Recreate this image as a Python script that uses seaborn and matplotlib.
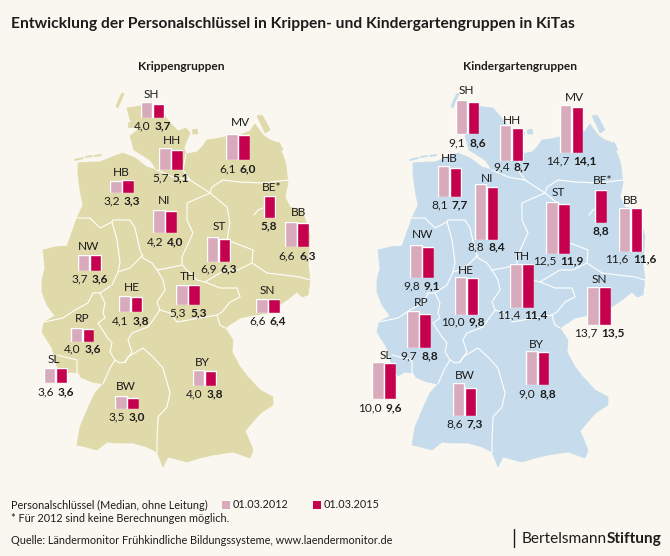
"""Personalschluessel in Krippen- und Kindergartengruppen, zwei Karten mit Balken je Bundesland."""
import numpy as np
import pandas as pd
import matplotlib.pyplot as plt
from matplotlib.patches import Polygon, Rectangle
import seaborn as sns

W, H = 670, 556
BG = "#f9f7ef"
SAND = "#e0d9a9"
BLUE = "#c6dcec"
LIGHT = "#d8aabb"
DARK = "#c4004f"
INK = "#1c1c1c"
FS_VAL = 8.6

states = ["SH", "HH", "MV", "HB", "NI", "BE*", "BB", "ST", "NW", "TH", "HE", "SN", "RP", "SL", "BY", "BW"]
krippe_2012 = [4.0, 5.7, 6.1, 3.2, 4.2, np.nan, 6.6, 6.9, 3.7, 5.3, 4.1, 6.6, 4.0, 3.6, 4.0, 3.5]
krippe_2015 = [3.7, 5.1, 6.0, 3.3, 4.0, 5.8, 6.3, 6.3, 3.6, 5.3, 3.8, 6.4, 3.6, 3.6, 3.8, 3.0]
kita_2012 = [9.1, 9.4, 14.7, 8.1, 8.8, np.nan, 11.6, 12.5, 9.8, 11.4, 10.0, 13.7, 9.7, 10.0, 9.0, 8.6]
kita_2015 = [8.6, 8.7, 14.1, 7.7, 8.4, 8.8, 11.6, 11.9, 9.1, 11.4, 9.8, 13.5, 8.8, 9.6, 8.8, 7.3]
dates = ["01.03.2012", "01.03.2015"]

# pixel layout per state: bar centre x, baseline y, label x, label y, value y, px per unit
layout_krippe = {
    "SH": (152.7, 117.7, 151, 95, 126, 3.83), "HH": (170.8, 170, 171.7, 140, 178, 3.86),
    "MV": (238, 160.3, 240, 123, 169, 4.3), "HB": (122, 193.3, 121, 172.7, 201, 3.96),
    "NI": (165, 233.3, 163.7, 201, 242, 5.55), "BE*": (263.7, 218.3, 271.7, 187.7, 225.7, 3.85),
    "BB": (297, 247.3, 298, 213, 255.7, 3.84), "ST": (218.7, 262, 219, 227, 269.3, 3.67),
    "NW": (89.5, 271.3, 89, 246, 279.3, 4.4), "TH": (188, 305.3, 188, 276.7, 313.3, 3.83),
    "HE": (130.7, 311.7, 131.7, 287.3, 320.7, 3.9), "SN": (268, 312.7, 267.7, 290.7, 320.7, 2.07),
    "RP": (82.3, 341.7, 81.7, 318.7, 349, 3.5), "SL": (55.5, 383, 54.3, 359.3, 391.7, 4.26),
    "BY": (204.7, 385.7, 202.7, 362.3, 393.7, 3.83), "BW": (127, 409, 126.3, 386.7, 417, 3.8),
}
layout_kita = {
    "SH": (467.3, 134.3, 466, 90, 142.7, 3.81), "HH": (511.7, 161.3, 511.7, 120, 167.3, 3.83),
    "MV": (571.3, 152.7, 574, 97.3, 160.7, 3.24), "HB": (449.7, 196.7, 449, 158.3, 205, 3.79),
    "NI": (486.3, 240, 487, 178.7, 246.7, 6.36), "BE*": (595, 223.3, 602.7, 180, 231, 3.82),
    "BB": (630.8, 252, 631, 201, 259.3, 3.82), "ST": (558, 253.7, 558, 193, 261, 4.16),
    "NW": (422, 278.3, 422.3, 235, 285.7, 3.4), "TH": (522, 307.7, 522.3, 256.7, 315, 3.8),
    "HE": (466.7, 314.7, 466, 270, 321.7, 3.77), "SN": (599, 325, 599, 279.3, 333.3, 2.8),
    "RP": (419, 348, 420.7, 302.3, 356, 3.85), "SL": (384, 399.3, 385.7, 355.3, 408, 3.73),
    "BY": (537.2, 385.3, 536.3, 344, 394, 3.81), "BW": (464.7, 416, 465.3, 375.7, 424.3, 3.87),
}

# map shapes traced in pixels on the left panel, the right panel is the same shifted
outline = [
    (127, 108), (140, 106), (158, 108), (164, 115), (172, 125), (178, 131), (186, 128), (190, 133), (187, 140),
    (184, 148), (186, 154), (197, 152), (203, 146), (207, 140), (215, 139), (224, 137), (240, 135), (250, 131),
    (255, 124), (257, 127), (260, 131), (264, 136), (270, 140), (276, 142), (279, 148), (283, 155), (286, 165),
    (288, 183), (285, 197), (290, 207), (302, 210), (306, 222), (310, 236), (309, 250), (308, 263), (310, 280),
    (308, 295), (302, 297), (297, 292), (287, 300), (267, 313), (255, 315), (240, 318), (225, 328), (233, 340),
    (232, 352), (240, 367), (248, 377), (260, 390), (273, 397), (273, 405), (262, 412), (257, 417), (245, 431),
    (249, 440), (253, 450), (250, 458), (233, 452), (213, 455), (200, 458), (187, 462), (168, 457), (163, 467),
    (157, 452), (147, 447), (133, 443), (115, 443), (107, 442), (97, 450), (86, 447), (77, 445), (80, 427),
    (88, 408), (95, 393), (103, 384), (92, 382), (80, 377), (77, 373), (70, 372), (63, 376), (57, 366), (52, 348),
    (42, 332), (44, 322), (55, 316), (47, 305), (42, 292), (42, 280), (45, 268), (43, 250), (55, 247), (67, 246),
    (72, 232), (77, 218), (83, 205), (80, 190), (78, 175), (78, 163), (92, 162), (100, 162), (112, 157), (123, 153),
    (135, 158), (147, 167), (157, 170), (150, 160), (134, 150), (130, 136), (138, 130), (130, 120),
]
islands = [
    [(122, 93), (124, 94), (120, 103), (118, 108), (116, 106), (119, 99)],
    [(128, 122), (133, 122), (133, 127), (128, 127)],
    [(192, 130), (197, 129), (198, 134), (193, 134)],
    [(257, 116), (262, 115), (266, 122), (270, 130), (265, 133), (261, 124)],
    [(272, 146), (279, 142), (283, 150), (277, 152)],
]
frisian = [[(75, 160), (83, 158)], [(86, 157), (92, 156)], [(95, 156), (101, 155)]]
borders = [
    # Elbe, MV and BB north
    [(157, 170), (173, 177), (190, 180), (210, 193)],
    [(186, 154), (183, 170), (190, 180)],
    [(210, 193), (212, 187), (223, 180), (240, 182), (263, 183), (288, 180)],
    # ST
    [(210, 193), (187, 203), (187, 220), (193, 233), (182, 257), (182, 265), (197, 280), (205, 282)],
    [(210, 193), (227, 207), (230, 223), (227, 240), (253, 250), (252, 263), (238, 270), (225, 270), (205, 282)],
    # SN, TH
    [(252, 263), (267, 273), (300, 277), (310, 280)],
    [(205, 282), (220, 288), (237, 288), (240, 297), (230, 302), (222, 312), (217, 315), (220, 325), (225, 328)],
    [(160, 310), (170, 313), (177, 322), (200, 318), (217, 315)],
    [(182, 265), (168, 268), (157, 270), (163, 280), (165, 290), (157, 302), (160, 310)],
    # NI, NW, HE
    [(77, 218), (90, 218), (100, 228), (112, 222), (113, 220), (130, 220), (135, 228), (140, 250), (143, 258), (152, 263), (157, 270)],
    [(112, 222), (117, 240), (120, 262), (118, 272), (112, 285), (100, 293)],
    [(143, 255), (130, 268), (118, 272)],
    [(100, 293), (93, 293), (88, 303), (75, 310), (63, 318), (44, 322)],
    [(100, 293), (105, 303), (103, 313), (105, 318), (98, 323), (107, 337), (112, 343), (110, 352), (115, 360), (120, 363), (125, 362)],
    [(160, 310), (148, 327), (132, 333), (128, 340), (132, 352), (125, 362)],
    # RP, SL, BW
    [(115, 360), (110, 368), (103, 384)],
    [(57, 355), (77, 360), (77, 373), (80, 377)],
    [(125, 362), (128, 357), (143, 348), (153, 357), (163, 368), (170, 393), (167, 407), (158, 417), (157, 440), (157, 452)],
    [(254, 215), (258, 210), (263, 208)],
]


def draw_map(ax, color, dx):
    for shape in [outline] + islands:
        ax.add_patch(Polygon(np.array(shape) + [dx, 0], closed=True, fc=color, ec=color, lw=0.5, zorder=1))
    for seg in frisian:
        pts = np.array(seg) + [dx, 0]
        ax.plot(pts[:, 0], pts[:, 1], color=color, lw=1.4, zorder=1)
    for seg in borders:
        pts = np.array(seg) + [dx, 0]
        ax.plot(pts[:, 0], pts[:, 1], color="white", lw=0.8, zorder=2, solid_joinstyle="round")


def draw_state(fig, ax, state, v12, v15, pos):
    cx, base, lx, ly, vy, ppu = pos
    bar_w = 24.0
    vmax = np.nanmax([v12, v15])
    height = vmax * ppu
    inset = fig.add_axes([(cx - bar_w / 2) / W, 1 - base / H, bar_w / W, height / H])
    df = pd.DataFrame({"date": dates, "value": [v12, v15]})
    sns.barplot(data=df, x="date", y="value", hue="date", order=dates, hue_order=dates,
                palette=[LIGHT, DARK], width=0.95, saturation=1, legend=False, ax=inset)
    inset.set_xlim(-0.5, 1.5)
    inset.set_ylim(0, vmax)
    inset.axis("off")
    inset.patch.set_alpha(0)

    ax.text(lx, ly, state, ha="center", va="center", fontsize=FS_VAL, color=INK)
    s15 = f"{v15:.1f}".replace(".", ",")
    if np.isnan(v12):
        ax.text(cx + 5.5, vy, s15, ha="center", va="center", fontsize=FS_VAL, fontweight="bold", color=INK)
    else:
        s12 = f"{v12:.1f}".replace(".", ",")
        ax.text(cx - 2, vy, s12, ha="right", va="center", fontsize=FS_VAL, color=INK)
        ax.text(cx + 2, vy, s15, ha="left", va="center", fontsize=FS_VAL, fontweight="bold", color=INK)


sns.set_theme(style="white")
plt.rcParams["font.family"] = ["Lato", "DejaVu Sans"]

fig = plt.figure(figsize=(W / 100, H / 100), dpi=100, facecolor=BG)
ax = fig.add_axes([0, 0, 1, 1])
ax.set_xlim(0, W)
ax.set_ylim(H, 0)
ax.axis("off")

draw_map(ax, SAND, 0)
draw_map(ax, BLUE, 335)

for i, state in enumerate(states):
    draw_state(fig, ax, state, krippe_2012[i], krippe_2015[i], layout_krippe[state])
    draw_state(fig, ax, state, kita_2012[i], kita_2015[i], layout_kita[state])

ax.text(11, 24, "Entwicklung der Personalschlüssel in Krippen- und Kindergartengruppen in KiTas",
        fontsize=11.25, fontweight="bold", va="center", color=INK)
ax.text(181, 67, "Krippengruppen", fontsize=8.6, fontweight="bold", ha="center", va="center", color=INK)
ax.text(520, 67, "Kindergartengruppen", fontsize=8.6, fontweight="bold", ha="center", va="center", color=INK)

# legend and footer
ax.text(11, 505, "Personalschlüssel (Median, ohne Leitung)", fontsize=7.8, va="center", color=INK)
ax.add_patch(Rectangle((222, 501), 8, 8, fc=LIGHT, ec="none"))
ax.text(233, 505, dates[0], fontsize=7.8, va="center", color=INK)
ax.add_patch(Rectangle((313, 501), 8, 8, fc=DARK, ec="none"))
ax.text(324, 505, dates[1], fontsize=7.8, va="center", color=INK)
ax.text(11, 519, "* Für 2012 sind keine Berechnungen möglich.", fontsize=7.8, va="center", color=INK)
ax.text(11, 540, "Quelle: Ländermonitor Frühkindliche Bildungssysteme, www.laendermonitor.de",
        fontsize=7.85, va="center", color=INK)
ax.plot([514, 514], [529, 547], color=INK, lw=1)
ax.text(522, 539, "Bertelsmann", fontsize=11.1, va="center", color=INK)
ax.text(607, 539, "Stiftung", fontsize=11.1, fontweight="bold", va="center", color=INK)

fig.savefig("out.png", dpi=100, facecolor=BG)
